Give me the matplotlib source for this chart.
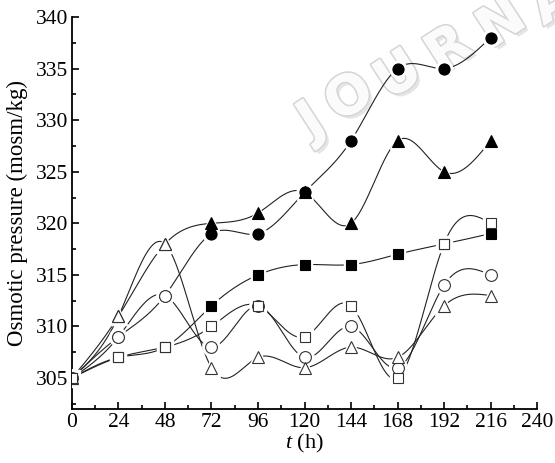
import numpy as np
import matplotlib
matplotlib.use("Agg")
import matplotlib.pyplot as plt
import matplotlib.patheffects as pe
from matplotlib.ticker import MultipleLocator

# -----------------------------
# DATA
# -----------------------------
hours = [0, 24, 48, 72, 96, 120, 144, 168, 192, 216]

filled_circle = [305, 309, 313, 319, 319, 323, 328, 335, 335, 338]
open_circle = [305, 309, 313, 308, 312, 307, 310, 306, 314, 315]
filled_triangle = [305, 311, 318, 320, 321, 323, 320, 328, 325, 328]
open_triangle = [305, 311, 318, 306, 307, 306, 308, 307, 312, 313]
filled_square = [305, 307, 308, 312, 315, 316, 316, 317, 318, 319]
open_square = [305, 307, 308, 310, 312, 309, 312, 305, 318, 320]

watermark_letters = ["J", "O", "U", "R", "N", "A"]


def natural_spline(x, y, n=400):
    # natural cubic spline, only used for drawing the connecting curve
    x = np.asarray(x, float)
    y = np.asarray(y, float)
    k = len(x)
    h = np.diff(x)
    A = np.zeros((k, k))
    b = np.zeros(k)
    A[0, 0] = A[-1, -1] = 1
    for i in range(1, k - 1):
        A[i, i - 1] = h[i - 1]
        A[i, i] = 2 * (h[i - 1] + h[i])
        A[i, i + 1] = h[i]
        b[i] = 3 * ((y[i + 1] - y[i]) / h[i] - (y[i] - y[i - 1]) / h[i - 1])
    c = np.linalg.solve(A, b)
    xs = np.linspace(x[0], x[-1], n)
    idx = np.clip(np.searchsorted(x, xs) - 1, 0, k - 2)
    dx = xs - x[idx]
    bb = (y[idx + 1] - y[idx]) / h[idx] - h[idx] * (2 * c[idx] + c[idx + 1]) / 3
    dd = (c[idx + 1] - c[idx]) / (3 * h[idx])
    ys = y[idx] + bb * dx + c[idx] * dx ** 2 + dd * dx ** 3
    return xs, ys


plt.rcParams["font.family"] = "Liberation Serif"
plt.rcParams["mathtext.fontset"] = "custom"
plt.rcParams["mathtext.it"] = "Liberation Serif:italic"
plt.rcParams["mathtext.rm"] = "Liberation Serif"

fig = plt.figure(figsize=(5.55, 4.63), dpi=100)
ax = fig.add_axes([0.1297, 0.1166, 0.8379, 0.8467])
ax.set_zorder(2)
ax.patch.set_alpha(0)

# -----------------------------
# WATERMARK (behind the axes)
# -----------------------------
wm_pos = [(312, 122), (350, 98), (399, 76), (449, 50), (502, 24), (553, 2)]
for letter, (px, py) in zip(watermark_letters, wm_pos):
    fig.text(px / 555, 1 - py / 463, letter, fontsize=39, family="DejaVu Sans",
             weight="bold", color="#fbfbfb", rotation=33, ha="center", va="center",
             zorder=1,
             path_effects=[pe.SimplePatchShadow(offset=(2.5, -2.5), shadow_rgbFace="#aaaaaa", alpha=0.3),
                           pe.withStroke(linewidth=2.5, foreground="#d6d6d6"),
                           pe.Normal()])

# -----------------------------
# SERIES
# -----------------------------
series = [
    (filled_circle, "o", "black", 8),
    (filled_triangle, "^", "black", 8),
    (filled_square, "s", "black", 6.5),
    (open_circle, "o", "white", 8.5),
    (open_triangle, "^", "white", 9),
    (open_square, "s", "white", 7.5),
]

for values, marker, face, ms in series:
    xs, ys = natural_spline(hours, values)
    ax.plot(xs, ys, color="#222222", lw=0.8, zorder=2)

for values, marker, face, ms in series:
    ax.plot(hours, values, ls="none", marker=marker, ms=ms + 4, mfc="white",
            mec="white", zorder=3)
for values, marker, face, ms in series:
    ax.plot(hours, values, ls="none", marker=marker, ms=ms, mfc=face,
            mec="black" if face == "black" else "#333333", mew=0.8, zorder=4)

# -----------------------------
# AXES
# -----------------------------
ax.set_xlim(0, 240)
ax.set_ylim(302, 340)
ax.set_xticks(range(0, 241, 24))
ax.set_yticks(range(305, 341, 5))
ax.xaxis.set_minor_locator(MultipleLocator(12))
ax.yaxis.set_minor_locator(MultipleLocator(2.5))
ax.spines["top"].set_visible(False)
ax.spines["right"].set_visible(False)
for s in ["left", "bottom"]:
    ax.spines[s].set_linewidth(1.3)
ax.tick_params(which="both", direction="in", width=1.2, labelsize=15.5)
ax.tick_params(which="major", length=5, pad=3)
ax.tick_params(which="minor", length=3)

ax.set_xlabel("$t$ (h)", fontsize=16, labelpad=0)
ax.set_ylabel("Osmotic pressure (mosm/kg)", fontsize=16.5, labelpad=5)

fig.savefig("out.png", dpi=100)
